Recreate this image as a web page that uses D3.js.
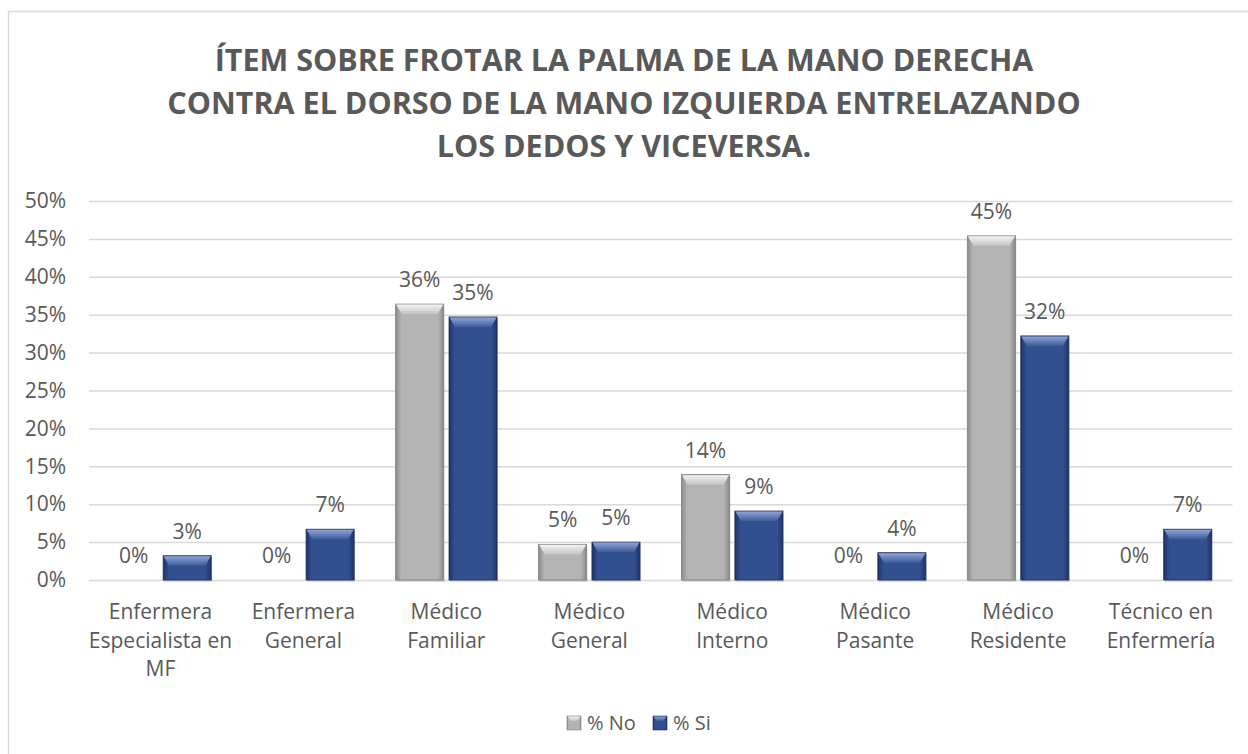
<!DOCTYPE html>
<html>
<head>
<meta charset="utf-8">
<script src="https://cdn.jsdelivr.net/npm/d3@7"></script>
<style>
  body { margin: 0; background: #fff; }
  text { font-family: "Open Sans", sans-serif; fill: #595959; }
</style>
</head>
<body>
<div id="chart"></div>
<script>
// Data
const categories = [
    ["Enfermera", "Especialista en", "MF"],
    ["Enfermera", "General"],
    ["Médico", "Familiar"],
    ["Médico", "General"],
    ["Médico", "Interno"],
    ["Médico", "Pasante"],
    ["Médico", "Residente"],
    ["Técnico en", "Enfermería"]
];
const seriesNames = ["% No", "% Si"];
const valuesNo = [0, 0, 0.364, 0.047, 0.139, 0, 0.454, 0];
const valuesSi = [0.032, 0.067, 0.347, 0.050, 0.091, 0.036, 0.322, 0.067];
const yTicks = [0, 0.05, 0.10, 0.15, 0.20, 0.25, 0.30, 0.35, 0.40, 0.45, 0.50];
const titleLines = [
    "ÍTEM SOBRE FROTAR LA PALMA DE LA MANO DERECHA",
    "CONTRA EL DORSO DE LA MANO IZQUIERDA ENTRELAZANDO",
    "LOS DEDOS Y VICEVERSA."
];

const W = 1248, H = 754;
const plot = { left: 89, right: 1232.5, top: 201, bottom: 580 };

const svg = d3.select("#chart").append("svg")
    .attr("width", W)
    .attr("height", H);

// Bevel style gradients for the two series
const defs = svg.append("defs");
const palettes = {
    no: { edge: "#8a8a8a", mid: "#b4b4b4", top0: "#f2f2f2", top1: "#c4c4c4", stroke: "#7f7f7f" },
    si: { edge: "#1f3366", mid: "#32508f", top0: "#8ea4d6", top1: "#3e5c9c", stroke: "#1c2e5c" }
};
Object.entries(palettes).forEach(([k, p]) => {
    const hg = defs.append("linearGradient").attr("id", `body-${k}`)
        .attr("x1", 0).attr("x2", 1).attr("y1", 0).attr("y2", 0);
    hg.append("stop").attr("offset", "0%").attr("stop-color", p.edge);
    hg.append("stop").attr("offset", "12%").attr("stop-color", p.mid);
    hg.append("stop").attr("offset", "88%").attr("stop-color", p.mid);
    hg.append("stop").attr("offset", "100%").attr("stop-color", p.edge);
    const vg = defs.append("linearGradient").attr("id", `top-${k}`)
        .attr("x1", 0).attr("x2", 0).attr("y1", 0).attr("y2", 1);
    vg.append("stop").attr("offset", "0%").attr("stop-color", p.top0);
    vg.append("stop").attr("offset", "100%").attr("stop-color", p.top1);
});

// Chart border
svg.append("rect")
    .attr("x", 8.5).attr("y", 11.5)
    .attr("width", 1260).attr("height", 770)
    .attr("fill", "none")
    .attr("stroke", "#d9d9d9")
    .attr("stroke-width", 1.5);

// Title
svg.append("g").selectAll("text")
    .data(titleLines)
    .join("text")
    .attr("x", 624)
    .attr("y", (d, i) => 71 + i * 43)
    .attr("text-anchor", "middle")
    .attr("font-size", 30.5)
    .attr("font-weight", "bold")
    .text(d => d);

// Scales
const x0 = d3.scaleBand()
    .domain(d3.range(categories.length))
    .range([plot.left, plot.right])
    .paddingInner(0.29)
    .paddingOuter(0.145);

const x1 = d3.scaleBand()
    .domain(["no", "si"])
    .range([0, x0.bandwidth()])
    .paddingInner(0.1);

const y = d3.scaleLinear()
    .domain([0, 0.5])
    .range([plot.bottom, plot.top]);

// Grid lines
svg.append("g")
    .attr("transform", `translate(${plot.left},0)`)
    .call(d3.axisLeft(y).tickValues(yTicks).tickSize(-(plot.right - plot.left)).tickFormat(""))
    .call(g => g.select(".domain").remove())
    .call(g => g.selectAll("line").attr("stroke", "#d9d9d9").attr("stroke-width", 1.5));

// Y axis labels
svg.append("g")
    .attr("transform", `translate(${plot.left - 23},0)`)
    .call(d3.axisLeft(y).tickValues(yTicks).tickSize(0).tickPadding(0).tickFormat(d3.format(".0%")))
    .call(g => g.select(".domain").remove())
    .call(g => g.selectAll("text")
        .attr("font-size", 21)
        .attr("font-family", "Open Sans")
        .attr("fill", "#595959"));

// Category labels
const catG = svg.append("g").selectAll("text")
    .data(categories)
    .join("text")
    .attr("x", (d, i) => x0(i) + x0.bandwidth() / 2)
    .attr("y", 619)
    .attr("text-anchor", "middle")
    .attr("font-size", 21);
catG.selectAll("tspan")
    .data(d => d)
    .join("tspan")
    .attr("x", function() { return d3.select(this.parentNode).attr("x"); })
    .attr("dy", (d, i) => i === 0 ? 0 : 28.5)
    .text(d => d);

// Bars
const rows = categories.map((c, i) => ({ i, no: valuesNo[i], si: valuesSi[i] }));
const fmt = d3.format(".0%");

const groups = svg.append("g").selectAll("g")
    .data(rows)
    .join("g")
    .attr("transform", d => `translate(${x0(d.i)},0)`);

const bars = groups.selectAll("g.bar")
    .data(d => ["no", "si"].map(k => ({ key: k, value: d[k] })))
    .join("g")
    .attr("class", "bar");

bars.filter(d => d.value > 0).each(function(d) {
    const g = d3.select(this);
    const bx = x1(d.key), bw = x1.bandwidth();
    const top = y(d.value), h = plot.bottom - top;
    const bevel = Math.min(10, h / 2);
    g.append("rect")
        .attr("x", bx + 1).attr("y", top + 2)
        .attr("width", bw).attr("height", h)
        .attr("fill", "#000").attr("opacity", 0.12);
    g.append("rect")
        .attr("x", bx).attr("y", top)
        .attr("width", bw).attr("height", h)
        .attr("fill", `url(#body-${d.key})`)
        .attr("stroke", palettes[d.key].stroke)
        .attr("stroke-width", 0.8);
    g.append("polygon")
        .attr("points", [
            [bx + 0.5, top + 0.5], [bx + bw - 0.5, top + 0.5],
            [bx + bw - 6, top + bevel], [bx + 6, top + bevel]
        ].map(p => p.join(",")).join(" "))
        .attr("fill", `url(#top-${d.key})`);
});

// Data labels
bars.append("text")
    .attr("x", d => x1(d.key) + x1.bandwidth() / 2)
    .attr("y", d => y(d.value) - 17)
    .attr("text-anchor", "middle")
    .attr("font-size", 21)
    .text(d => fmt(d.value));

// Legend
const legend = svg.append("g").attr("transform", "translate(567,716)");
const legendItems = [
    { key: "no", name: seriesNames[0], x: 0 },
    { key: "si", name: seriesNames[1], x: 86 }
];
const li = legend.selectAll("g")
    .data(legendItems)
    .join("g")
    .attr("transform", d => `translate(${d.x},0)`);
li.append("rect")
    .attr("width", 14).attr("height", 14)
    .attr("fill", d => `url(#body-${d.key})`)
    .attr("stroke", d => palettes[d.key].stroke)
    .attr("stroke-width", 0.6);
li.append("polygon")
    .attr("points", "0.5,0.5 13.5,0.5 10,5 4,5")
    .attr("fill", d => `url(#top-${d.key})`);
li.append("text")
    .attr("x", 20)
    .attr("y", 14)
    .attr("font-size", 20)
    .text(d => d.name);
</script>
</body>
</html>
